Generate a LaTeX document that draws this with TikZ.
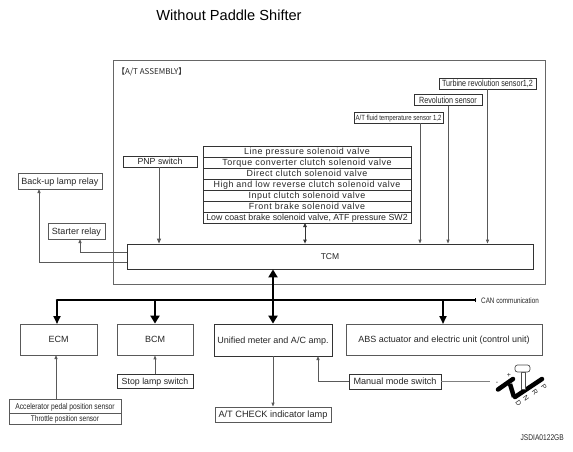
\documentclass[tikz,border=0pt]{standalone}
\usepackage{fontspec}
\setmainfont{Liberation Sans}
\newfontfamily\cjk{Noto Sans CJK JP}
\newfontfamily\cond[FakeStretch=0.8]{Liberation Sans}
\newfontfamily\wide[LetterSpace=6]{Liberation Sans}
\usetikzlibrary{arrows.meta}
\newcommand{\fs}[1]{\fontsize{#1}{#1}\selectfont}
\tikzset{
  box/.style={draw=black!80,line width=0.8pt,fill=white,inner sep=0pt,text=black!85,text height=6.4pt,text depth=0pt},
  valve/.style={box,minimum width=208pt,minimum height=11pt,font=\wide\fs{8.9}},
  lbl/.style={inner sep=0pt,text=black!85},
  wire/.style={draw=black!65,line width=0.9pt},
  tip/.style={-{Triangle[length=4pt,width=3pt]}},
  bigtip/.style={draw=black,line width=2.6pt,-{Triangle[length=8pt,width=8pt]}},
  bus/.style={draw=black,line width=2.6pt},
}
\begin{document}
\begin{tikzpicture}[x=1pt,y=-1pt]
\useasboundingbox (0,0) rectangle (573,451);
\node[lbl,text=black,font=\fs{14.6}] (title) at (229,15) {Without Paddle Shifter};
\node[draw=black!60,line width=0.9pt,inner sep=0pt,minimum width=432pt,minimum height=224pt] (assy) at (329.5,172) {};
\node[lbl,anchor=west,font=\cjk\fs{8}] (assylbl) at (117,72) {【A/T ASSEMBLY】};
% TCM
\node[box,minimum width=406pt,minimum height=25pt,font=\fs{8.5}] (tcm) at (330,256.5) {TCM};
% sensors
\node[box,minimum width=97pt,minimum height=11pt,font=\cond\fs{9}] (turb) at (487.5,83.5) {Turbine revolution sensor1,2};
\node[box,minimum width=68pt,minimum height=10.5pt,font=\cond\fs{9}] (rev) at (448,100) {Revolution sensor};
\node[box,minimum width=89pt,minimum height=11pt,font=\cond\fs{7.5}] (fluid) at (398.5,117.5) {A/T fluid temperature sensor 1,2};
\coordinate (fluidx) at (420,123);
\draw[wire,tip] (fluidx) -- (fluidx |- tcm.north);
\draw[wire,tip] (rev.south) -- (rev.south |- tcm.north);
\draw[wire,tip] (turb.south) -- (turb.south |- tcm.north);
% valves
\node[valve] (v1) at (307,151.5) {Line pressure solenoid valve};
\node[valve] (v2) at (307,162.5) {Torque converter clutch solenoid valve};
\node[valve] (v3) at (307,173.5) {Direct clutch solenoid valve};
\node[valve] (v4) at (307,184.5) {High and low reverse clutch solenoid valve};
\node[valve] (v5) at (307,195.5) {Input clutch solenoid valve};
\node[valve] (v6) at (307,206.5) {Front brake solenoid valve};
\node[valve,font=\fs{8.8}] (v7) at (307,217.5) {Low coast brake solenoid valve, ATF pressure SW2};
\coordinate (vx) at (305,223);
\draw[wire,draw=black!80,{Triangle[length=4pt,width=3.5pt]}-{Triangle[length=4pt,width=3.5pt]}] (vx) -- (vx |- tcm.north);
% PNP
\node[box,minimum width=74pt,minimum height=11pt,font=\fs{8.8}] (pnp) at (160,161.5) {PNP switch};
\coordinate (pnpx) at (159,167);
\draw[wire,line width=1pt,-{Triangle[length=5pt,width=4pt]}] (pnpx) -- (pnpx |- tcm.north);
% relays
\node[box,draw=black!65,minimum width=84pt,minimum height=16pt,font=\fs{9}] (backup) at (60,181) {Back-up lamp relay};
\node[box,draw=black!65,minimum width=57pt,minimum height=16pt,font=\fs{9}] (starter) at (76.5,231) {Starter relay};
\coordinate (backx) at (39,189);
\coordinate (startx) at (80,239);
\coordinate (tcmA) at (127,252);
\coordinate (tcmB) at (127,262);
\draw[wire,tip] (tcmA) -| (startx);
\draw[wire,tip] (tcmB) -| (backx);
% lower boxes
\node[box,minimum width=77pt,minimum height=31pt,font=\fs{9},draw=black!65] (ecm) at (58.5,339.5) {ECM};
\node[box,minimum width=76pt,minimum height=31pt,font=\fs{9},draw=black!65] (bcm) at (155,339.5) {BCM};
\node[box,minimum width=118pt,minimum height=32pt,font=\fs{9}] (meter) at (273,340) {Unified meter and A/C amp.};
\node[box,minimum width=196pt,minimum height=31pt,font=\fs{9},draw=black!65] (abs) at (444,339.5) {ABS actuator and electric unit (control unit)};
\node[box,minimum width=76pt,minimum height=14pt,font=\fs{8.8}] (stop) at (155,381) {Stop lamp switch};
\node[box,minimum width=112pt,minimum height=14pt,font=\cond\fs{8.4},draw=black!65] (accel) at (65,406) {Accelerator pedal position sensor};
\node[box,minimum width=112pt,minimum height=11pt,font=\cond\fs{8.2},draw=black!65] (thr) at (65,418.5) {Throttle position sensor};
\node[box,minimum width=116pt,minimum height=15pt,font=\fs{9.2},draw=black!65] (check) at (273,414.5) {A/T CHECK indicator lamp};
\node[box,minimum width=92pt,minimum height=15pt,font=\fs{9.1}] (manual) at (395,381.5) {Manual mode switch};
% bus
\coordinate (busL) at (57,300);
\coordinate (busR) at (475,300);
\node[lbl,anchor=west,font=\cond\fs{7.9}] (can) at (481,300.5) {CAN communication};
\draw[bus,line cap=round] (busR) -- (busL);
\draw[black,line width=0.8pt] ([yshift=-2pt]busR) -- ([yshift=2pt]busR);
\coordinate (ecmtop) at (57,324);
\draw[bigtip,-{Triangle[length=8pt,width=7pt]}] (busL) -- (ecmtop);
\draw[bigtip,-{Triangle[length=8pt,width=9pt]}] (bcm.north |- busR) -- (bcm.north);
\coordinate (abstop) at (443,324);
\draw[bigtip,-{Triangle[length=8pt,width=7pt]}] (abstop |- busR) -- (abstop);
\draw[draw=black,line width=2.6pt,{Triangle[length=8pt,width=9pt]}-{Triangle[length=8pt,width=9pt]}] (meter.north |- tcm.south) -- (meter.north);
% lower wires
\coordinate (ecmbot) at (56,355);
\draw[wire,tip] (accel.north -| ecmbot) -- (ecmbot);
\draw[wire,tip] (stop.north) -- (bcm.south);
\draw[wire,tip] (meter.south) -- (check.north);
\coordinate (metin) at (318,356);
\draw[wire,tip] (manual.west) -| (metin);
% shifter
\coordinate (shiftend) at (490,381.5);
\draw[wire,draw=black!50] (manual.east) -- (shiftend);
\draw[black,line width=4.5pt,line join=round,line cap=round] (498,389.5) -- (513,379);
\draw[black,line width=4.5pt,line join=round] (510,384) -- (514,397);
\draw[black,line width=4.5pt,line cap=round] (515,397) -- (542,379);
\draw[fill=white,draw=black!70,line width=0.6pt] (521,372) rectangle (525.5,389);
\node[draw=black!70,line width=0.7pt,fill=white,rounded corners=2.5pt,inner sep=0pt,minimum width=15pt,minimum height=7pt] (knob) at (522.5,368.5) {};
\node[lbl,font=\fs{7}] (sm) at (497,383) {-};
\node[lbl,font=\fs{7}] (sp) at (509,375) {+};
\node[lbl,rotate=-55,font=\fs{7}] (sd) at (518.5,403) {D};
\node[lbl,rotate=-55,font=\fs{7}] (sn) at (526,398) {N};
\node[lbl,rotate=-55,font=\fs{7}] (sr) at (535,392.5) {R};
\node[lbl,rotate=-55,font=\fs{7}] (sp2) at (544,387) {P};
\node[lbl,font=\cond\fs{8.3},anchor=east] (code) at (564,438) {JSDIA0122GB};
\end{tikzpicture}
\end{document}
